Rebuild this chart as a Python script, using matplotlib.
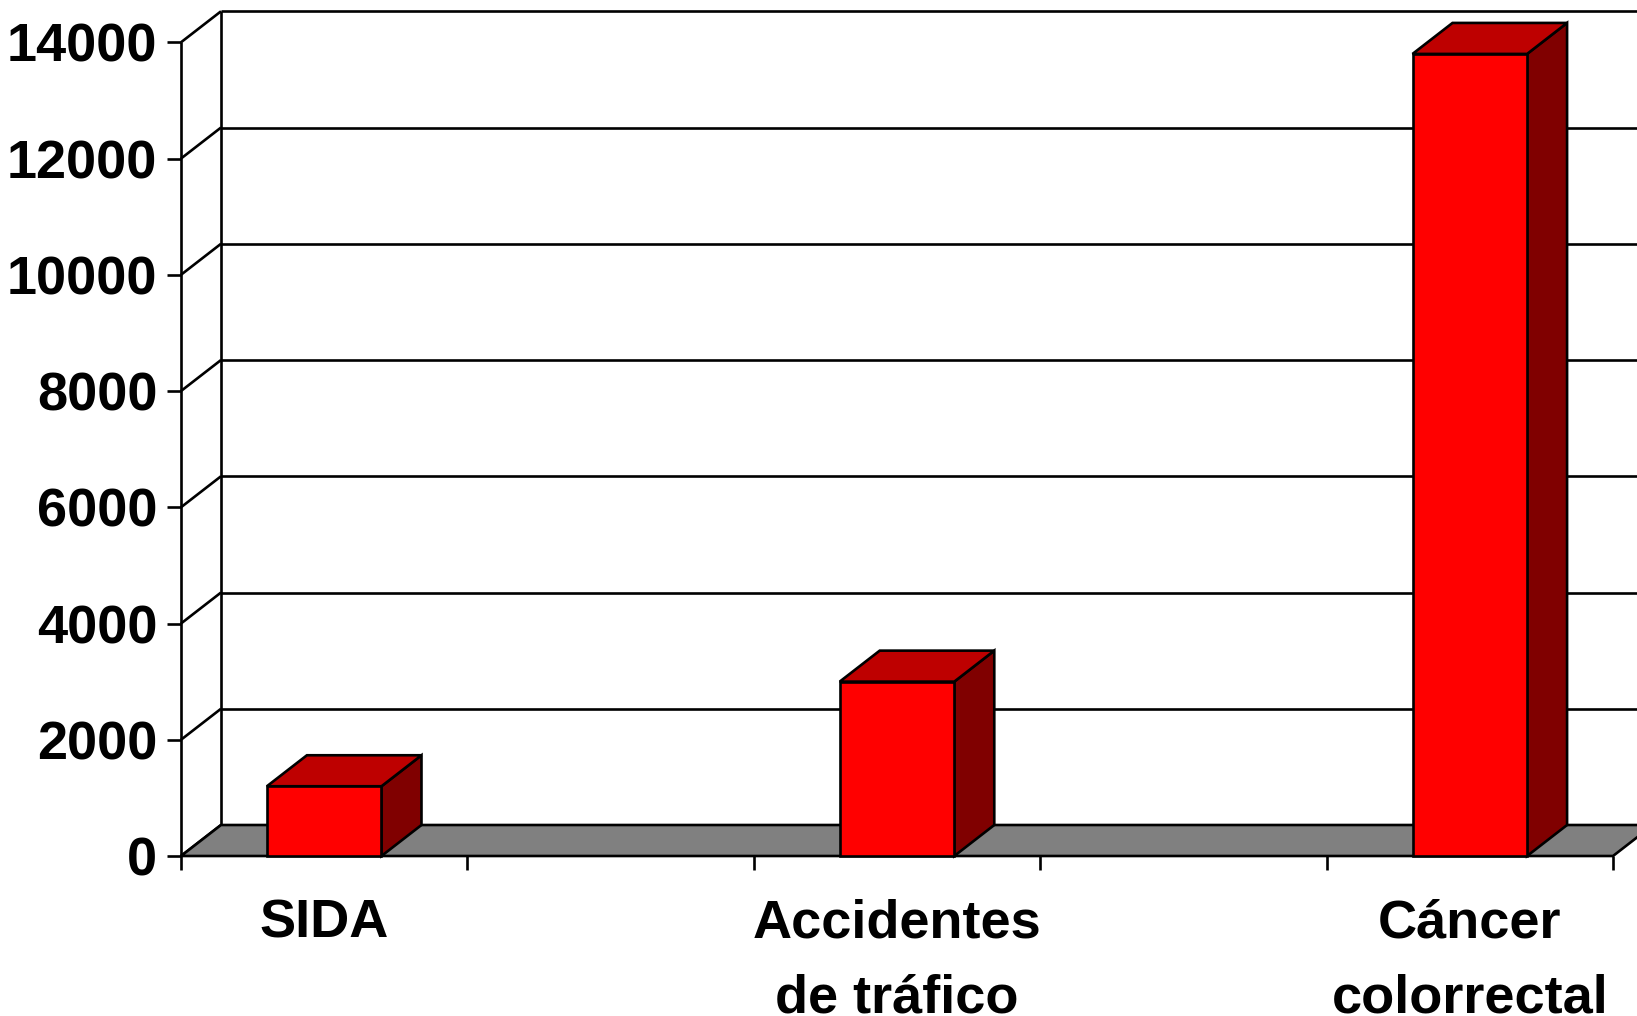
import matplotlib
matplotlib.use("Agg")
import matplotlib.pyplot as plt
from matplotlib.patches import Polygon
import numpy as np

# ---- data ----
categories = ["SIDA", "Accidentes\nde tráfico", "Cáncer\ncolorrectal"]
values = [1200, 3000, 13800]
y_ticks = [0, 2000, 4000, 6000, 8000, 10000, 12000, 14000]
y_tick_labels = ["0", "2000", "4000", "6000", "8000", "10000", "12000", "14000"]

# ---- layout / style ----
slots = [0, 2, 4]          # category slot positions (empty slots between)
x_min, x_max = -0.5, 4.5
bar_w = 0.40
W, H = 1637, 1016
FRONT_RED = "#FF0000"
TOP_RED = "#BE0000"
SIDE_RED = "#800000"
FLOOR = "#808080"
LW = 1.9
FS = 39

plt.rcParams["font.family"] = ["Liberation Sans", "DejaVu Sans"]
plt.rcParams["font.weight"] = "bold"

fig = plt.figure(figsize=(W / 100, H / 100), dpi=100)
ax = fig.add_axes([181 / W, 160 / H, (1613 - 181) / W, (973.7 - 160) / H])
ax.set_xlim(x_min, x_max)
ax.set_ylim(0, 14000)

# depth offset expressed in data units (≈ 40 px right, 31 px up)
px_per_x = (1613 - 181) / (x_max - x_min)
px_per_y = (973.7 - 160) / 14000
dx = 40 / px_per_x
dy = 31 / px_per_y

kw = dict(color="black", lw=LW, clip_on=False, solid_capstyle="butt")

# back wall gridlines
for v in y_ticks[1:]:
    ax.plot([x_min + dx, x_max + dx], [v + dy, v + dy], zorder=1, **kw)
# back wall left vertical
ax.plot([x_min + dx, x_min + dx], [dy, y_ticks[-1] + dy], zorder=1, **kw)
# left side wall slants and front axis line
for v in y_ticks:
    ax.plot([x_min, x_min + dx], [v, v + dy], zorder=1, **kw)
ax.plot([x_min, x_min], [0, y_ticks[-1]], zorder=1, **kw)

# floor
floor = Polygon([(x_min, 0), (x_max, 0), (x_max + dx, dy), (x_min + dx, dy)],
                closed=True, facecolor=FLOOR, edgecolor="black", lw=LW,
                clip_on=False, zorder=2, joinstyle="miter")
ax.add_patch(floor)

# bars
for x, v in zip(slots, values):
    x0, x1 = x - bar_w / 2, x + bar_w / 2
    side = Polygon([(x1, 0), (x1, v), (x1 + dx, v + dy), (x1 + dx, dy)],
                   closed=True, facecolor=SIDE_RED, edgecolor="black", lw=LW,
                   clip_on=False, zorder=3, joinstyle="miter")
    top = Polygon([(x0, v), (x1, v), (x1 + dx, v + dy), (x0 + dx, v + dy)],
                  closed=True, facecolor=TOP_RED, edgecolor="black", lw=LW,
                  clip_on=False, zorder=3, joinstyle="miter")
    ax.add_patch(side)
    ax.add_patch(top)
ax.bar(slots, values, width=bar_w, color=FRONT_RED, edgecolor="black",
       linewidth=LW, zorder=4, clip_on=False)

# axes ticks
for s in ax.spines.values():
    s.set_visible(False)
ax.set_yticks(y_ticks)
ax.set_yticklabels(y_tick_labels, fontsize=FS, fontweight="bold")
ax.tick_params(axis="y", length=10, width=LW, pad=7, direction="out")
ax.set_xticks(np.arange(x_min, x_max + 0.01, 1.0))
ax.set_xticklabels([])
ax.tick_params(axis="x", length=10, width=LW, direction="out")
ax.patch.set_visible(False)

# category labels
for x, lab in zip(slots, categories):
    ax.annotate(lab, xy=(x, 0), xytext=(0, -43), textcoords="offset pixels",
                ha="center", va="top", multialignment="center",
                fontsize=FS, fontweight="bold", linespacing=1.62,
                annotation_clip=False)

fig.savefig("out.png", dpi=100)
